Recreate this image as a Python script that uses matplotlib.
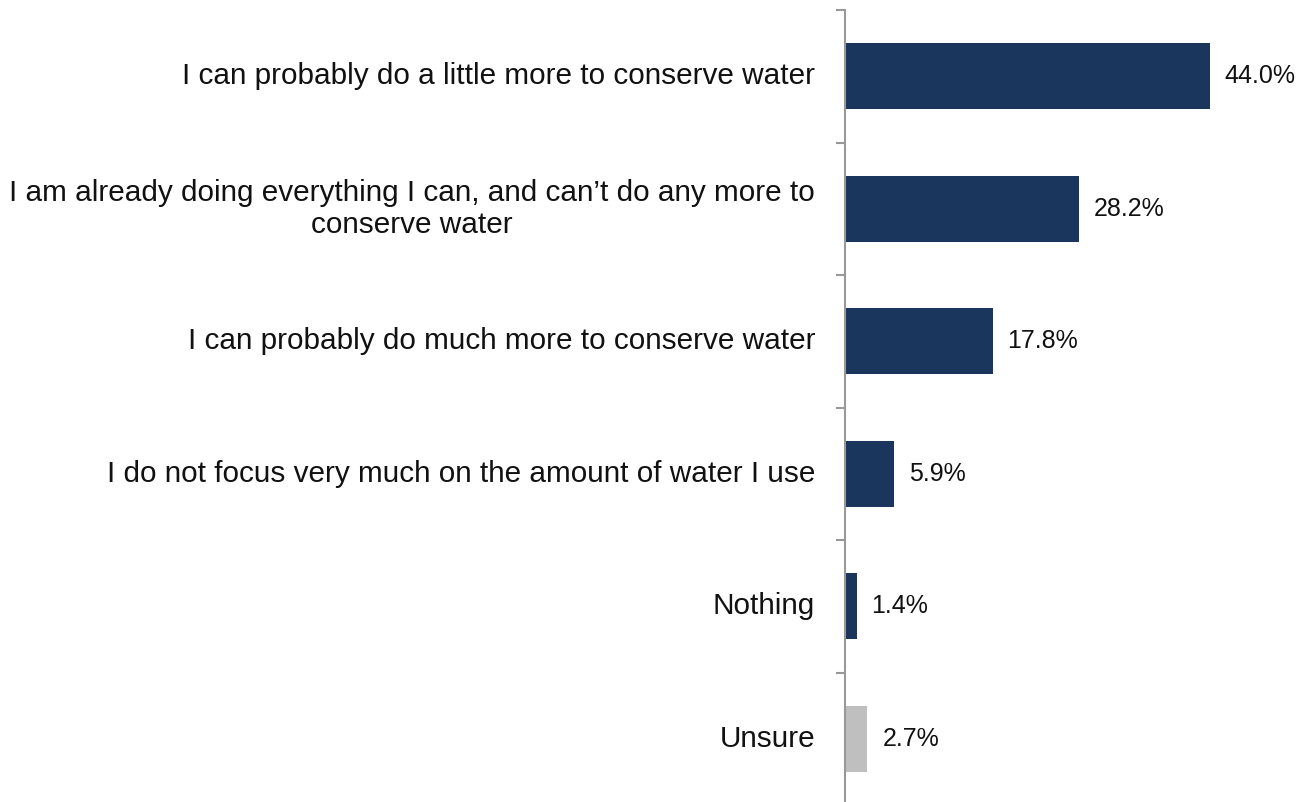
import matplotlib.pyplot as plt
import numpy as np

categories = [
    "I can probably do a little more to conserve water",
    "I am already doing everything I can, and can\u2019t do any more to\nconserve water",
    "I can probably do much more to conserve water",
    "I do not focus very much on the amount of water I use",
    "Nothing",
    "Unsure",
]
values = [44.0, 28.2, 17.8, 5.9, 1.4, 2.7]
colors = ["#1B365D"] * 5 + ["#BFBFBF"]

plt.rcParams['font.family'] = ['Liberation Sans', 'DejaVu Sans']

fig = plt.figure(figsize=(13.07, 8.02), dpi=100)
ax = fig.add_axes([845 / 1307, -3 / 802, 456 / 1307, 795 / 802])

y = np.arange(len(categories))
ax.barh(y, values, height=0.5, color=colors)
ax.set_ylim(len(categories) - 0.5, -0.5)
ax.set_xlim(0, 55)

for yi, v in zip(y, values):
    ax.text(v + 1.8, yi, f"{v:.1f}%", va='center', ha='left', fontsize=18, color='#111111')

for yi, c in zip(y, categories):
    ax.text(-3.6, yi, c, va='center', ha='right', multialignment='center',
            fontsize=21.4, color='#111111', linespacing=1.2)

for s in ['top', 'right', 'bottom']:
    ax.spines[s].set_visible(False)
ax.spines['left'].set_color('#999999')
ax.spines['left'].set_linewidth(1.5)
ax.set_xticks([])
ax.set_yticks(np.arange(-0.5, len(categories), 1.0))
ax.set_yticklabels([])
ax.tick_params(axis='y', direction='out', length=6.5, width=1.5, color='#999999')

fig.savefig('out.png', dpi=100)
